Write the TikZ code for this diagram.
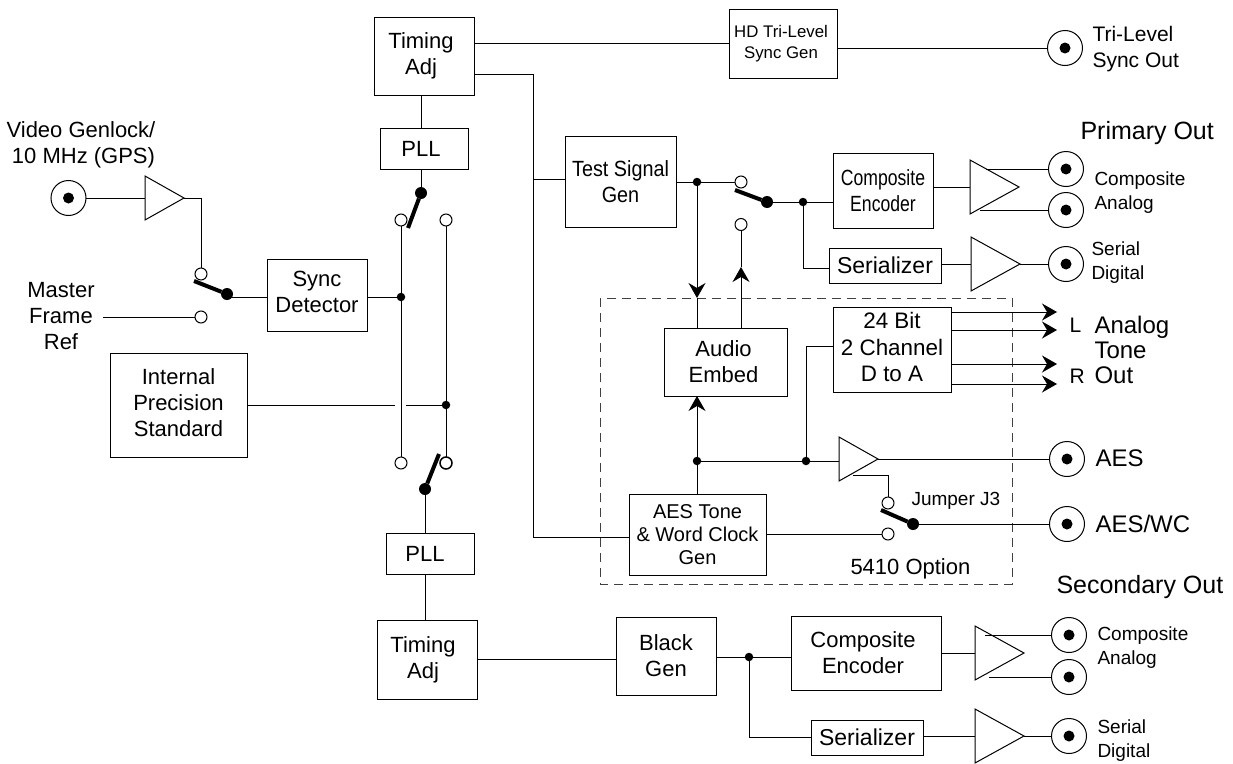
\documentclass[tikz,border=0pt]{standalone}
\usepackage{fontspec}
\setmainfont{Liberation Sans}
\newfontfamily\narrowfont[FakeStretch=.9]{Liberation Sans}
\newfontfamily\slimfont[FakeStretch=.8]{Liberation Sans}
\usetikzlibrary{shapes.geometric,arrows.meta}
\newcommand{\sizept}[2]{\fontsize{#1}{#2}\selectfont}
\tikzset{
  box/.style={draw,rectangle,inner sep=0pt,outer sep=0pt,align=center,font=\sizept{22}{26}},
  amp/.style={draw,isosceles triangle,isosceles triangle stretches,inner sep=0pt,outer sep=0pt,minimum width=54,minimum height=49,anchor=apex},
  bnc/.style={draw,circle,inner sep=0pt,outer sep=0pt,minimum size=35,path picture={\fill (path picture bounding box.center) circle (5.5pt);}},
  contact/.style={draw,circle,inner sep=0pt,outer sep=0pt,minimum size=12},
  pole/.style={fill,circle,inner sep=0pt,outer sep=0pt,minimum size=12},
  junction/.style={fill,circle,inner sep=0pt,outer sep=0pt,minimum size=8.5},
  blade/.style={line width=4pt},
  lab/.style={inner sep=0pt,align=center,font=\sizept{22}{26}},
  smalllab/.style={inner sep=0pt,align=left,font=\sizept{19}{24}},
}
\begin{document}
\begin{tikzpicture}[x=1pt,y=-1pt,line width=1pt,>={Stealth[length=15pt,width=17pt,inset=5pt]}]
  \useasboundingbox (0,0) rectangle (1233,763);
  \node[box,minimum width=100,minimum height=78] (timetop) at (424,56) {Timing\hspace*{6pt}\\Adj\hspace*{6pt}};
  \node[box,minimum width=88,minimum height=41] (plltop) at (424,148.5) {PLL\hspace*{6pt}};
  \node[box,minimum width=100,minimum height=72] (sync) at (317,295) {Sync\\Detector\\[-19pt]};
  \node[box,minimum width=137,minimum height=104] (ips) at (178.5,405) {Internal\\Precision\\Standard\\[-22pt]};
  \node[box,minimum width=111,minimum height=91,font=\narrowfont\sizept{22}{26}] (testgen) at (620.5,181.5) {Test Signal\\Gen};
  \node[box,minimum width=108,minimum height=69,font=\sizept{16.8}{20.5}] (trilevel) at (783,43.5) {HD Tri-Level\hspace*{4pt}\\Sync Gen\hspace*{4pt}};
  \node[box,minimum width=100,minimum height=75,font=\slimfont\sizept{22}{26}] (encprim) at (883,190.5) {Composite\\Encoder};
  \node[box,minimum width=112,minimum height=35,font=\sizept{23}{26}] (serprim) at (885,265.5) {Serializer};
  \node[box,minimum width=123,minimum height=68] (embed) at (725.5,362) {Audio\hspace*{4pt}\\Embed\hspace*{4pt}};
  \node[box,minimum width=118,minimum height=85,font=\sizept{22.4}{26.5}] (dtoa) at (892,349.5) {24 Bit\\2 Channel\\D to A\\[-21.5pt]};
  \node[box,minimum width=137,minimum height=81,font=\sizept{20}{23}] (aesgen) at (697.5,534.5) {AES Tone\\\&\ Word Clock\\Gen};
  \node[box,minimum width=88,minimum height=41] (pllbot) at (430,553.5) {PLL\hspace*{10pt}};
  \node[box,minimum width=100,minimum height=79] (timebot) at (427,659.5) {Timing\hspace*{8pt}\\Adj\hspace*{8pt}};
  \node[box,minimum width=100,minimum height=78] (black) at (666,656) {Black\\Gen};
  \node[box,minimum width=150,minimum height=74] (encsec) at (866,653) {Composite\hspace*{6pt}\\Encoder\hspace*{6pt}};
  \node[box,minimum width=112,minimum height=35,font=\sizept{23}{26}] (sersec) at (867,737.5) {Serializer};
  \draw[dashed,dash pattern=on 9pt off 6pt,black!75] (600,298) rectangle (1012,584);

  \node[bnc] (genlock) at (68.5,198) {};
  \node[bnc] (triout) at (1065,48) {};
  \node[bnc] (compa) at (1066,169) {};
  \node[bnc] (compb) at (1066,210) {};
  \node[bnc] (serout) at (1066,264) {};
  \node[bnc] (aesout) at (1067,459) {};
  \node[bnc] (wcout) at (1067,524) {};
  \node[bnc] (seca) at (1069,635) {};
  \node[bnc] (secb) at (1069,677) {};
  \node[bnc] (secser) at (1069,736) {};

  \node[amp,minimum width=44,minimum height=39] (ampin) at (184,198) {};
  \node[amp] (ampcomp) at (1019,187) {};
  \node[amp] (ampser) at (1020,264) {};
  \node[amp,minimum width=44,minimum height=39] (ampaes) at (878,459) {};
  \node[amp] (ampseca) at (1024,653) {};
  \node[amp] (ampsecb) at (1024,736) {};

  \node[contact] (inup) at (201,274) {};
  \node[contact] (indn) at (201,317) {};
  \node[pole] (inpole) at (227,294) {};
  \node[contact] (pllupa) at (401,220) {};
  \node[contact] (pllupb) at (446,220) {};
  \node[pole] (pllpole) at (421,193) {};
  \node[contact] (pllloa) at (401,463) {};
  \node[contact,line width=1.5pt] (pllloB) at (446,463) {};
  \node[pole] (lopole) at (425,489) {};
  \node[contact] (testup) at (741,182) {};
  \node[contact] (testdn) at (741,224.5) {};
  \node[pole] (testpole) at (767,202) {};
  \node[contact] (jumpup) at (888,503) {};
  \node[contact] (jumpdn) at (888,534) {};
  \node[pole] (jumppole) at (913,524) {};

  \node[junction] (syncdot) at (401,297) {};
  \node[junction] (ipsdot) at (446,405) {};
  \node[junction] (testdot) at (697,182) {};
  \node[junction] (encdot) at (803,202) {};
  \node[junction] (aesdot) at (697,461) {};
  \node[junction] (dacdot) at (806,461) {};
  \node[junction] (blackdot) at (749,657) {};

  \coordinate (testtip) at (697,298);
  \coordinate (embedtip) at (741,267);
  \coordinate (gapl) at (395,405);
  \coordinate (gapr) at (406,405);
  \coordinate (masterend) at (103,317);
  \coordinate (timeturn) at (533,74);
  \coordinate (aesturn) at (533,537);
  \coordinate (ampinturn) at (201,198);
  \coordinate (ampaesturn) at (888,475.5);
  \coordinate (ampaesout) at (853,475.5);

  \draw[blade] (inpole) -- (194,281);
  \draw[blade] (pllpole) -- (408,228);
  \draw[blade] (lopole) -- (439,454);
  \draw[blade] (testpole) -- (735,190);
  \draw[blade] (jumppole) -- (881,510);

  \path (pllpole |- timetop.south) edge (pllpole |- plltop.north);
  \path (pllpole |- plltop.south) edge (pllpole);
  \path (genlock) edge (ampin.lower side);
  \draw (ampin.apex) -- (ampinturn) -- (inup);
  \path (masterend) edge (indn);
  \path (inpole |- syncdot) edge (sync.west |- syncdot);
  \path (sync.east |- syncdot) edge (syncdot);
  \path (pllupa) edge (pllloa);
  \path (pllupb) edge (pllloB);
  \path (ips.east) edge (gapl);
  \path (gapr) edge (ipsdot);
  \path (lopole) edge (lopole |- pllbot.north);
  \path (lopole |- pllbot.south) edge (lopole |- timebot.north);
  \path (timebot.east |- 0,659) edge (black.west |- 0,659);
  \path (black.east |- blackdot) edge (blackdot);
  \path (blackdot) edge (encsec.west |- blackdot);
  \draw (blackdot) |- (sersec.west);
  \path (encsec.east |- ampseca.lower side) edge (ampseca.lower side);
  \path (sersec.east |- ampsecb.lower side) edge (ampsecb.lower side);
  \path (ampsecb.apex) edge (secser);
  \path (985,635) edge (seca);
  \path (989,677) edge (secb);

  \path (timetop.east |- 0,43) edge (trilevel.west |- 0,43);
  \path (trilevel.east |- triout) edge (triout);
  \draw (timetop.east |- timeturn) -- (timeturn) -- (aesturn) -- (aesgen.west |- aesturn);
  \path (timeturn |- 0,179) edge (testgen.west |- 0,179);
  \path (testgen.east |- testdot) edge (testdot);
  \path (testdot) edge (testup);
  \path (testpole) edge (encdot);
  \path (encdot) edge (encprim.west |- encdot);
  \draw (encdot) |- (serprim.west |- 0,268);
  \path (encprim.east |- ampcomp.lower side) edge (ampcomp.lower side);
  \path (serprim.east |- ampser.lower side) edge (ampser.lower side);
  \path (ampser.apex) edge (serout);
  \path (986,169) edge (compa);
  \path (980,210) edge (compb);

  \path[->] (testdot) edge (testtip);
  \path (testtip) edge (testtip |- embed.north);
  \path[->] (testup |- embed.north) edge (embedtip);
  \path (embedtip) edge (testdn);
  \path[->] (aesdot |- aesgen.north) edge (aesdot |- embed.south);
  \path (aesdot) edge (dacdot);
  \path (dacdot) edge (ampaes.west |- dacdot);
  \draw (dacdot) |- (dtoa.west |- 0,346);
  \path (ampaes.apex) edge (aesout);
  \draw (ampaesout) -- (ampaesturn) -- (jumpup);
  \path (aesgen.east |- jumpdn) edge (jumpdn);
  \path (jumppole) edge (wcout);
  \foreach \ypos in {312,330,364,384}
    \path[->] (dtoa.east |- 0,\ypos) edge (1057,\ypos);

  \node[lab] (genlocklab) at (81,145) {Video Genlock/\\\hspace*{5pt}10 MHz (GPS)};
  \node[lab] (masterlab) at (61,316) {Master\\Frame\\Ref};
  \node[lab,font=\sizept{25}{30},anchor=west] (primlab) at (1080,133) {Primary Out};
  \node[lab,font=\sizept{25}{30},anchor=west] (seclab) at (1056,587) {Secondary Out};
  \node[lab,anchor=west,align=left,font=\sizept{21}{26}] (trilab) at (1092,49) {Tri-Level\\Sync Out};
  \node[smalllab,anchor=west] (complab) at (1094,193) {Composite\\Analog};
  \node[smalllab,anchor=west] (serlab) at (1091,263) {Serial\\Digital};
  \node[lab,anchor=west,align=left,font=\sizept{24}{25}] (tonelab) at (1094,350) {Analog\\Tone\\Out};
  \node[lab,anchor=west,font=\sizept{21}{26}] (llab) at (1069,325) {L};
  \node[lab,anchor=west,font=\sizept{21}{26}] (rlab) at (1069,376) {R};
  \node[lab,anchor=west,font=\sizept{24}{26}] (aeslab) at (1095,458) {AES};
  \node[lab,anchor=west,font=\sizept{24}{26}] (wclab) at (1095,524) {AES/WC};
  \node[smalllab,anchor=west] (jumplab) at (911,501) {Jumper J3};
  \node[lab,anchor=west] (optlab) at (850,569) {5410 Option};
  \node[smalllab,anchor=west] (seccomplab) at (1097,648) {Composite\\Analog};
  \node[smalllab,anchor=west] (secserlab) at (1097,741) {Serial\\Digital};
\end{tikzpicture}
\end{document}
